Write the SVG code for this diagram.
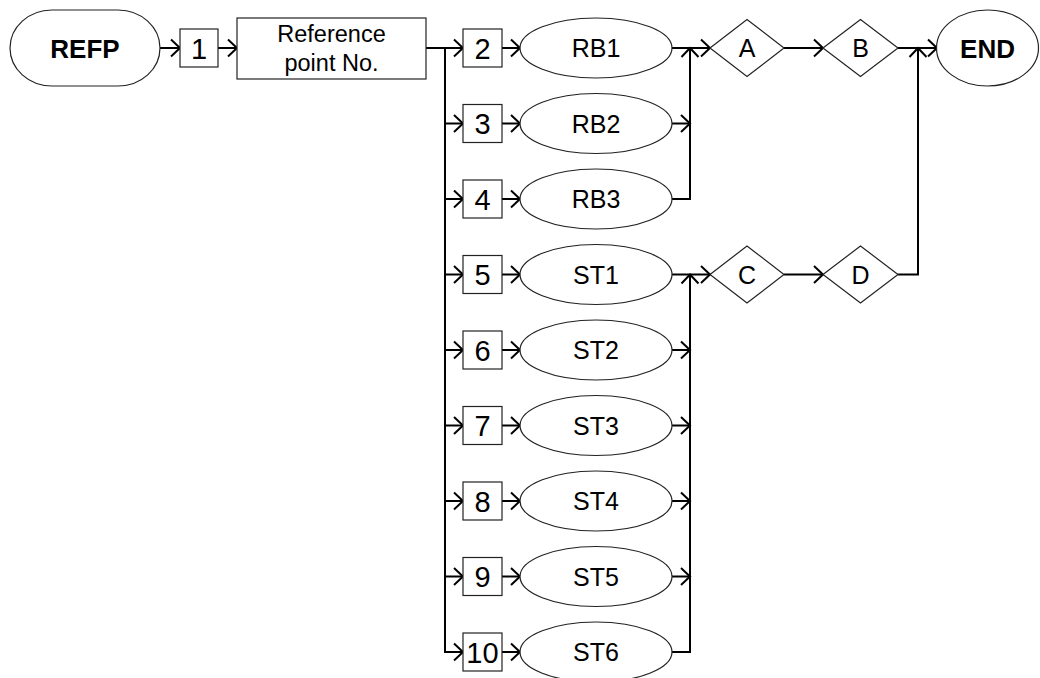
<svg xmlns="http://www.w3.org/2000/svg" width="1040" height="678" viewBox="0 0 1040 678">
<style>
.sh{fill:#fff;stroke:#222;stroke-width:1.2}
.c{fill:none;stroke:#000;stroke-width:2}
.ca{fill:none;stroke:#000;stroke-width:2;marker-end:url(#ah)}
.t{font-family:"Liberation Sans",Arial,sans-serif;fill:#000;text-anchor:middle}
.n{font-size:29px}
.e{font-size:25px}
.b{font-size:26px;font-weight:bold}
.r{font-size:23.5px}
</style>
<defs>
<marker id="ah" markerUnits="userSpaceOnUse" markerWidth="24" markerHeight="24" viewBox="-12 -12 24 24" refX="0" refY="0" orient="auto" overflow="visible">
<path d="M-9,-8.5 L0,0 L-9,8.5" fill="none" stroke="#000" stroke-width="2"/>
</marker>
</defs>
<g id="connectors">
<line class="ca" x1="160" y1="48" x2="180" y2="48"/>
<line class="ca" x1="218" y1="48" x2="237" y2="48"/>
<line class="ca" x1="426" y1="48" x2="463" y2="48"/>
<line class="c" x1="445" y1="48" x2="445" y2="652"/>
<line class="ca" x1="445" y1="123.5" x2="463" y2="123.5"/>
<line class="ca" x1="445" y1="199" x2="463" y2="199"/>
<line class="ca" x1="445" y1="274.5" x2="463" y2="274.5"/>
<line class="ca" x1="445" y1="350" x2="463" y2="350"/>
<line class="ca" x1="445" y1="425.5" x2="463" y2="425.5"/>
<line class="ca" x1="445" y1="501" x2="463" y2="501"/>
<line class="ca" x1="445" y1="576.5" x2="463" y2="576.5"/>
<line class="ca" x1="444" y1="652" x2="463" y2="652"/>
<line class="ca" x1="502" y1="48" x2="520" y2="48"/>
<line class="ca" x1="502" y1="123.5" x2="520" y2="123.5"/>
<line class="ca" x1="502" y1="199" x2="520" y2="199"/>
<line class="ca" x1="502" y1="274.5" x2="520" y2="274.5"/>
<line class="ca" x1="502" y1="350" x2="520" y2="350"/>
<line class="ca" x1="502" y1="425.5" x2="520" y2="425.5"/>
<line class="ca" x1="502" y1="501" x2="520" y2="501"/>
<line class="ca" x1="502" y1="576.5" x2="520" y2="576.5"/>
<line class="ca" x1="502" y1="652" x2="520" y2="652"/>
<line class="ca" x1="672" y1="48" x2="710" y2="48"/>
<line class="ca" x1="672" y1="123.5" x2="690" y2="123.5"/>
<polyline class="ca" points="672,199 690,199 690,48"/>
<line class="ca" x1="672" y1="274.5" x2="710" y2="274.5"/>
<line class="ca" x1="672" y1="350" x2="690" y2="350"/>
<line class="ca" x1="672" y1="425.5" x2="690" y2="425.5"/>
<line class="ca" x1="672" y1="501" x2="690" y2="501"/>
<line class="ca" x1="672" y1="576.5" x2="690" y2="576.5"/>
<polyline class="ca" points="672,652 690,652 690,274.5"/>
<line class="ca" x1="784" y1="48" x2="823" y2="48"/>
<line class="ca" x1="784" y1="274.5" x2="823" y2="274.5"/>
<line class="ca" x1="898" y1="48" x2="937" y2="48"/>
<polyline class="ca" points="898,274.5 918,274.5 918,48"/>
</g>
<g id="refp"><rect class="sh" x="10" y="10" width="150" height="76" rx="42" ry="38"/><text class="t b" x="85" y="57.5">REFP</text></g>
<g id="n1"><rect class="sh" x="180" y="29" width="38" height="38"/><text class="t n" x="199" y="58.5">1</text></g>
<g id="refno"><rect class="sh" x="237" y="18" width="189" height="61"/><text class="t r" x="331.5" y="42">Reference</text><text class="t r" x="331.5" y="71">point No.</text></g>
<g id="n2"><rect class="sh" x="463" y="29" width="39" height="38"/><text class="t n" x="482.5" y="58.5">2</text></g>
<g id="n3"><rect class="sh" x="463" y="104.5" width="39" height="38"/><text class="t n" x="482.5" y="134">3</text></g>
<g id="n4"><rect class="sh" x="463" y="180" width="39" height="38"/><text class="t n" x="482.5" y="209.5">4</text></g>
<g id="n5"><rect class="sh" x="463" y="255.5" width="39" height="38"/><text class="t n" x="482.5" y="285">5</text></g>
<g id="n6"><rect class="sh" x="463" y="331" width="39" height="38"/><text class="t n" x="482.5" y="360.5">6</text></g>
<g id="n7"><rect class="sh" x="463" y="406.5" width="39" height="38"/><text class="t n" x="482.5" y="436">7</text></g>
<g id="n8"><rect class="sh" x="463" y="482" width="39" height="38"/><text class="t n" x="482.5" y="511.5">8</text></g>
<g id="n9"><rect class="sh" x="463" y="557.5" width="39" height="38"/><text class="t n" x="482.5" y="587">9</text></g>
<g id="n10"><rect class="sh" x="463" y="633" width="39" height="38"/><text class="t n" x="482.5" y="662.5">10</text></g>
<g id="rb1"><ellipse class="sh" cx="596" cy="48" rx="76" ry="30"/><text class="t e" x="596" y="57">RB1</text></g>
<g id="rb2"><ellipse class="sh" cx="596" cy="123.5" rx="76" ry="30"/><text class="t e" x="596" y="132.5">RB2</text></g>
<g id="rb3"><ellipse class="sh" cx="596" cy="199" rx="76" ry="30"/><text class="t e" x="596" y="208">RB3</text></g>
<g id="st1"><ellipse class="sh" cx="596" cy="274.5" rx="76" ry="30"/><text class="t e" x="596" y="283.5">ST1</text></g>
<g id="st2"><ellipse class="sh" cx="596" cy="350" rx="76" ry="30"/><text class="t e" x="596" y="359">ST2</text></g>
<g id="st3"><ellipse class="sh" cx="596" cy="425.5" rx="76" ry="30"/><text class="t e" x="596" y="434.5">ST3</text></g>
<g id="st4"><ellipse class="sh" cx="596" cy="501" rx="76" ry="30"/><text class="t e" x="596" y="510">ST4</text></g>
<g id="st5"><ellipse class="sh" cx="596" cy="576.5" rx="76" ry="30"/><text class="t e" x="596" y="585.5">ST5</text></g>
<g id="st6"><ellipse class="sh" cx="596" cy="652" rx="76" ry="30"/><text class="t e" x="596" y="661">ST6</text></g>
<g id="dA"><polygon class="sh" points="710,48 747,19.5 784,48 747,76.5"/><text class="t e" x="747" y="57">A</text></g>
<g id="dB"><polygon class="sh" points="823,48 860.5,19.5 898,48 860.5,76.5"/><text class="t e" x="860.5" y="57">B</text></g>
<g id="dC"><polygon class="sh" points="710,274.5 747,246 784,274.5 747,303"/><text class="t e" x="747" y="283.5">C</text></g>
<g id="dD"><polygon class="sh" points="823,274.5 860.5,246 898,274.5 860.5,303"/><text class="t e" x="860.5" y="283.5">D</text></g>
<g id="end"><ellipse class="sh" cx="987.5" cy="48" rx="51" ry="38"/><text class="t b" x="987.5" y="57.5">END</text></g>
</svg>
